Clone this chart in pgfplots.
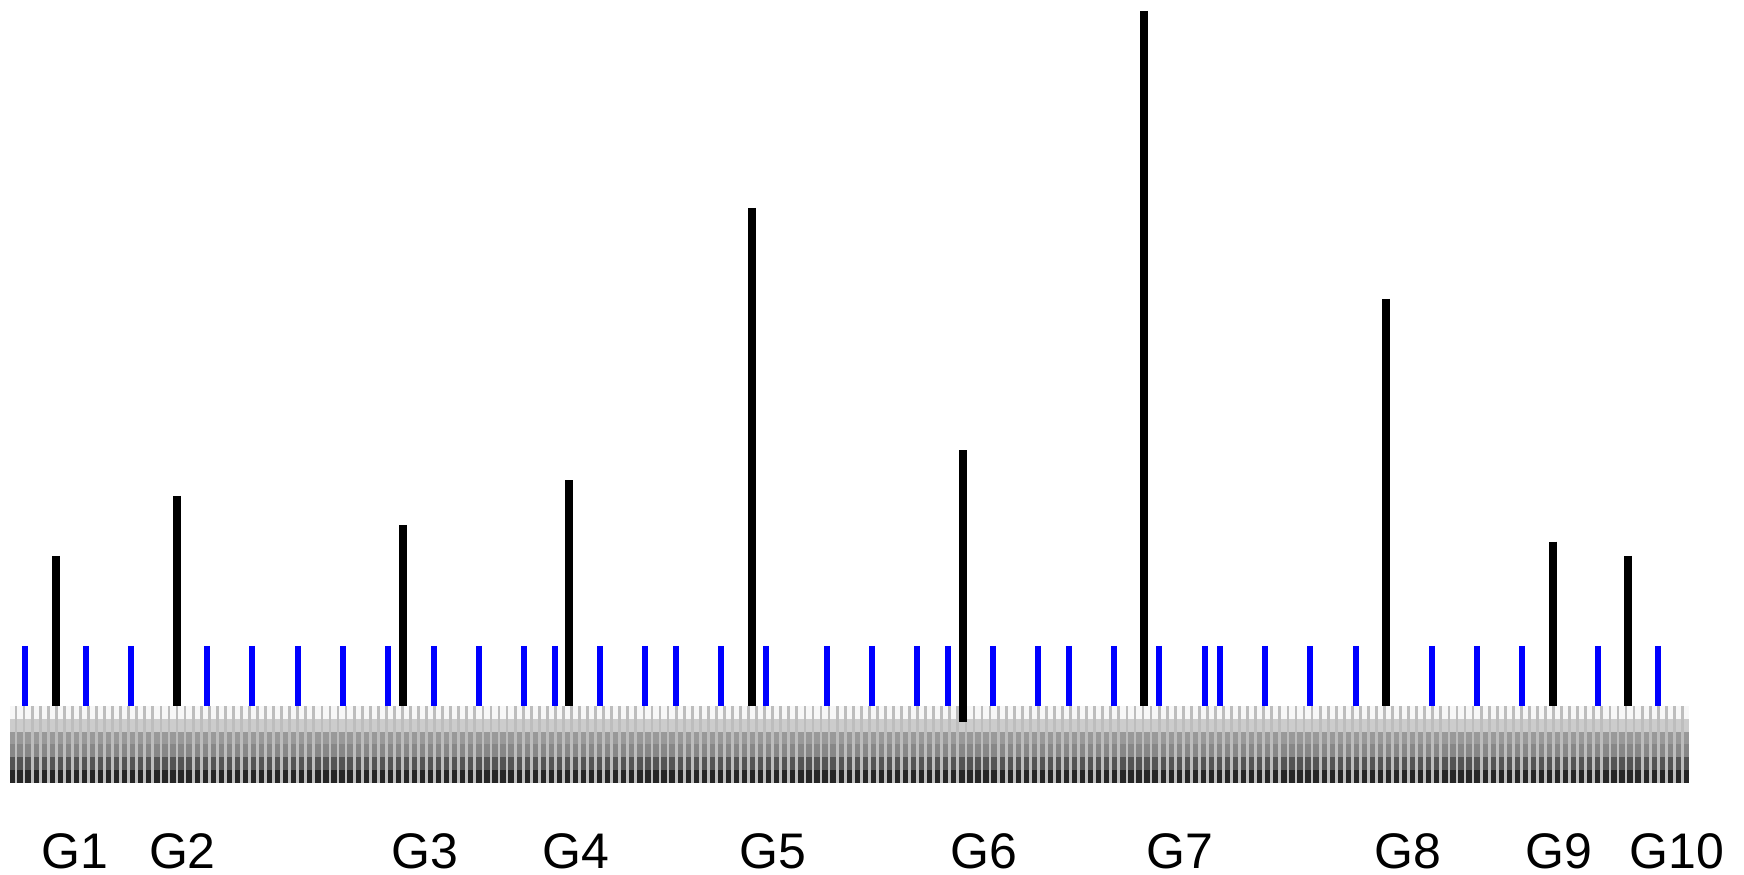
\documentclass[border=0pt]{standalone}
\usepackage{fontspec}
\setmainfont{Liberation Sans}
\usepackage{pgfplots}
\pgfplotsset{compat=1.18}

% picture is laid out in reference pixels: 1 px = 0.25pt
\begin{document}
\begin{tikzpicture}
% grey scale band with light vertical stripes
\begin{axis}[at={(2.5pt,23pt)}, anchor=south west, scale only axis,
    width=419.75pt, height=19.25pt,
    xmin=10, xmax=1689, ymin=706, ymax=783, y dir=reverse,
    axis line style={draw=none}, major tick length=0pt,
    xtick={16,24.05,...,1684}, xticklabel=\empty, ytick=\empty,
    xmajorgrids, grid style={line width=0.7pt, color=black!26},
    axis on top]
\addplot[fill=black!3, draw=none] coordinates {(10,706) (1689,706) (1689,719) (10,719)};
\addplot[fill=black!20, draw=none] coordinates {(10,719) (1689,719) (1689,732) (10,732)};
\addplot[fill=black!40, draw=none] coordinates {(10,732) (1689,732) (1689,744) (10,744)};
\addplot[fill=black!47, draw=none] coordinates {(10,744) (1689,744) (1689,757) (10,757)};
\addplot[fill=black!67, draw=none] coordinates {(10,757) (1689,757) (1689,770) (10,770)};
\addplot[fill=black!85, draw=none] coordinates {(10,770) (1689,770) (1689,783) (10,783)};
\end{axis}

\begin{axis}[at={(0,0)}, anchor=south west, scale only axis,
    width=436pt, height=218.75pt,
    xmin=0, xmax=1744, ymin=0, ymax=875, y dir=reverse,
    hide axis, clip=false]
% short blue markers
\addplot[only marks, mark=|, mark size=7.5pt, mark options={line width=1.5pt, draw=blue}]
  coordinates {
  (25,676) (86,676) (131,676) (207,676) (252.3,676) (297.7,676) (343,676)
  (388.3,676) (433.7,676) (479,676) (524.3,676) (554.7,676) (600,676)
  (645.3,676) (675.7,676) (721,676) (766.3,676) (826.7,676) (872,676)
  (917.3,676) (947.7,676) (993,676) (1038.3,676) (1068.7,676) (1114,676)
  (1159.3,676) (1204.7,676) (1220,676) (1265.3,676) (1310.3,676) (1356,676)
  (1431.7,676) (1477,676) (1522.3,676) (1598,676) (1658.3,676)};
% tall black lines, one per group
\addplot[black, line width=2pt, unbounded coords=jump] table[row sep=\\] {
x y \\
55.7 556 \\ 55.7 706 \\ 55.7 nan \\
176.7 496 \\ 176.7 706 \\ 176.7 nan \\
403.3 525 \\ 403.3 706 \\ 403.3 nan \\
569.3 480.5 \\ 569.3 706 \\ 569.3 nan \\
751.5 208 \\ 751.5 706 \\ 751.5 nan \\
963 450.5 \\ 963 722 \\ 963 nan \\
1144.3 11 \\ 1144.3 706 \\ 1144.3 nan \\
1386.3 299 \\ 1386.3 706 \\ 1386.3 nan \\
1552.7 541.6 \\ 1552.7 706 \\ 1552.7 nan \\
1628 556 \\ 1628 706 \\
};
\path (axis cs:0,0) rectangle (axis cs:1744,875);
\begin{scope}[font=\fontsize{12.5pt}{14pt}\selectfont, every node/.style={anchor=base, inner sep=0pt}]
\node at (axis cs:74.5,868) {G1};
\node at (axis cs:182.4,868) {G2};
\node at (axis cs:425,868) {G3};
\node at (axis cs:576,868) {G4};
\node at (axis cs:772.5,868) {G5};
\node at (axis cs:984,868) {G6};
\node at (axis cs:1180,868) {G7};
\node at (axis cs:1408,868) {G8};
\node at (axis cs:1559,868) {G9};
\node at (axis cs:1676.6,868) {G10};
\end{scope}
\end{axis}
\end{tikzpicture}
\end{document}
